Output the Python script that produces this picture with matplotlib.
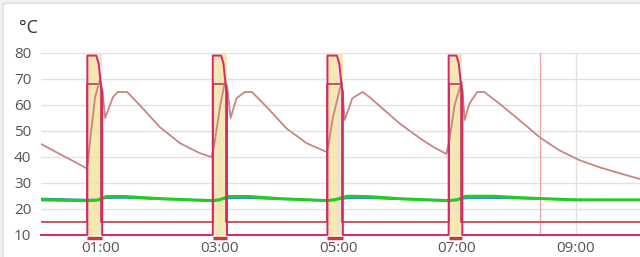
import numpy as np
import matplotlib
matplotlib.use("Agg")
import matplotlib.pyplot as plt
from matplotlib.patches import FancyBboxPatch
from matplotlib.transforms import blended_transform_factory

plt.rcParams["font.family"] = ["Open Sans", "DejaVu Sans"]

# time axis in hours since 00:00
TICK_HOURS = [1, 3, 5, 7, 9]
TICK_LABELS = ["01:00", "03:00", "05:00", "07:00", "09:00"]
Y_TICKS = [10, 20, 30, 40, 50, 60, 70, 80]

# heating periods (start, end) in hours
BAND_START = [0.78, 2.89, 4.82, 6.86]
BAND_END = [1.03, 3.13, 5.08, 7.09]

HEATER_BASE = 10
HEATER_TOP = 79
HEATER_FALL = 65
SETPOINT_BASE = 15
SETPOINT_TOP = 68

NOW_HOUR = 8.39

# boiler / tank temperature
tank_t = [0.0, 0.32, 0.61, 0.76, 0.79, 0.82, 0.91, 0.99, 1.03, 1.08, 1.21, 1.29, 1.45,
          1.66, 2.0, 2.34, 2.67, 2.87,
          2.91, 3.01, 3.09, 3.13, 3.19, 3.29, 3.43, 3.55, 3.80, 4.13, 4.47, 4.81,
          4.84, 4.91, 5.06, 5.11, 5.24, 5.41, 5.53, 5.58, 6.03, 6.37, 6.59, 6.82,
          6.87, 6.96, 7.08, 7.13, 7.21, 7.34, 7.46, 7.71, 8.05, 8.39, 8.72, 9.06,
          9.39, 9.73, 10.02, 10.1]
tank_v = [45, 41.1, 37.6, 35.7, 38, 45, 63, 69.6, 66, 55, 63, 65, 65,
          60, 51.5, 45.3, 41.5, 40,
          43.8, 59, 68.4, 67.7, 55, 62.6, 65, 65, 59.2, 51, 45.3, 41.9,
          45, 55, 69, 54.2, 62.6, 65, 63, 62, 53, 47.3, 44, 41.2,
          46, 60, 69, 54.2, 60.6, 65, 65, 60.6, 54.2, 47.6, 42.6, 38.8,
          36.1, 33.8, 31.9, 31.5]

# room temperatures
room_t = [0, 0.78, 0.95, 1.1, 1.4, 2.0, 2.5, 2.89, 3.0, 3.15, 3.5, 4.0, 4.5, 4.82,
          4.95, 5.15, 5.5, 6.0, 6.5, 6.86, 7.0, 7.15, 7.6, 8.2, 9.0, 10.1]
green_v = [23.5, 23.2, 23.4, 24.8, 24.8, 24.0, 23.5, 23.2, 23.5, 24.8, 24.8, 24.0, 23.5, 23.2,
           23.6, 24.9, 24.8, 24.0, 23.5, 23.2, 23.5, 24.9, 24.9, 24.2, 23.5, 23.5]
blue_v = [24.0, 23.6, 23.6, 24.2, 24.3, 23.8, 23.6, 23.5, 23.6, 24.1, 24.2, 23.8, 23.6, 23.5,
          23.6, 24.1, 24.2, 23.8, 23.6, 23.5, 23.6, 24.1, 24.2, 24.0, 23.6, 23.4]


def square_wave(starts, ends, base, top, fall=None):
    xs, ys = [0.0], [base]
    for s, e in zip(starts, ends):
        xs += [s, s]
        ys += [base, top]
        if fall is None:
            xs += [e - 0.02, e - 0.02]
            ys += [top, base]
        else:
            xs += [e - 0.1, e - 0.06, e - 0.02, e, e]
            ys += [top, top - 3, fall + 2, fall, base]
    xs.append(10.2)
    ys.append(base)
    return xs, ys


fig = plt.figure(figsize=(6.4, 2.57), dpi=100)
fig.patch.set_facecolor("#f1f1f1")
card = FancyBboxPatch((3 / 640, -0.1), 1.1, 1.1 - 3 / 257,
                      boxstyle="round,pad=0,rounding_size=0.01",
                      transform=fig.transFigure, facecolor="white",
                      edgecolor="#dcdcdc", linewidth=1.0, zorder=-10)
fig.patches.append(card)

ax = fig.add_axes([41 / 640, 22 / 257, 1 - 41 / 640, (235 - 53) / 257])
ax.set_zorder(5)
ax.set_facecolor("none")
ax.set_xlim(0, 10.08)
ax.set_ylim(10, 80)

for s, e in zip(BAND_START, BAND_END):
    ax.axvspan(s, e, color="#f5e8b0", zorder=1, lw=0)

ax.set_yticks(Y_TICKS)
ax.set_xticks(TICK_HOURS)
ax.set_xticklabels(TICK_LABELS)
ax.grid(True, color="#e2e2e2", linewidth=1.0, zorder=2)
ax.set_axisbelow(False)
for line in ax.get_xgridlines() + ax.get_ygridlines():
    line.set_zorder(2)
ax.tick_params(length=0, labelsize=11, labelcolor="#555555")
ax.tick_params(axis="y", pad=7)
ax.tick_params(axis="x", pad=4)
for sp in ax.spines.values():
    sp.set_visible(False)

ax.axvline(NOW_HOUR, color="#f4a3ab", lw=1.0, zorder=3)

ax.fill_between(room_t, blue_v, green_v, color="#9cc8e6", alpha=0.7, lw=0, zorder=3)
ax.plot(room_t, blue_v, color="#3a88cc", lw=1.3, zorder=4)
ax.plot(room_t, green_v, color="#22cc22", lw=2.2, zorder=5)

sx, sy = square_wave(BAND_START, BAND_END, SETPOINT_BASE, SETPOINT_TOP)
ax.plot(sx, sy, color="#c23a4a", lw=1.2, zorder=5)

ax.plot(tank_t, tank_v, color="#c98585", lw=1.3, zorder=6)

hx, hy = square_wave(BAND_START, BAND_END, HEATER_BASE, HEATER_TOP, fall=HEATER_FALL)
ax.plot(hx, hy, color="#d6276a", lw=1.4, zorder=7, clip_on=False)

trans = blended_transform_factory(ax.transData, ax.transAxes)
for s, e in zip(BAND_START, BAND_END):
    ax.plot([s, e], [-0.016, -0.016], color="#cc3b30", lw=2.5,
            transform=trans, clip_on=False, solid_capstyle="butt", zorder=8)

fig.text(19 / 640, 1 - 28 / 257, "°C", fontsize=13, color="#333333", va="center")
fig.text(100 / 640, 1 - 262 / 257, "01.12.2021", fontsize=9, color="#888888",
         ha="center", va="center")

fig.savefig("out.png", dpi=100, facecolor=fig.get_facecolor())
